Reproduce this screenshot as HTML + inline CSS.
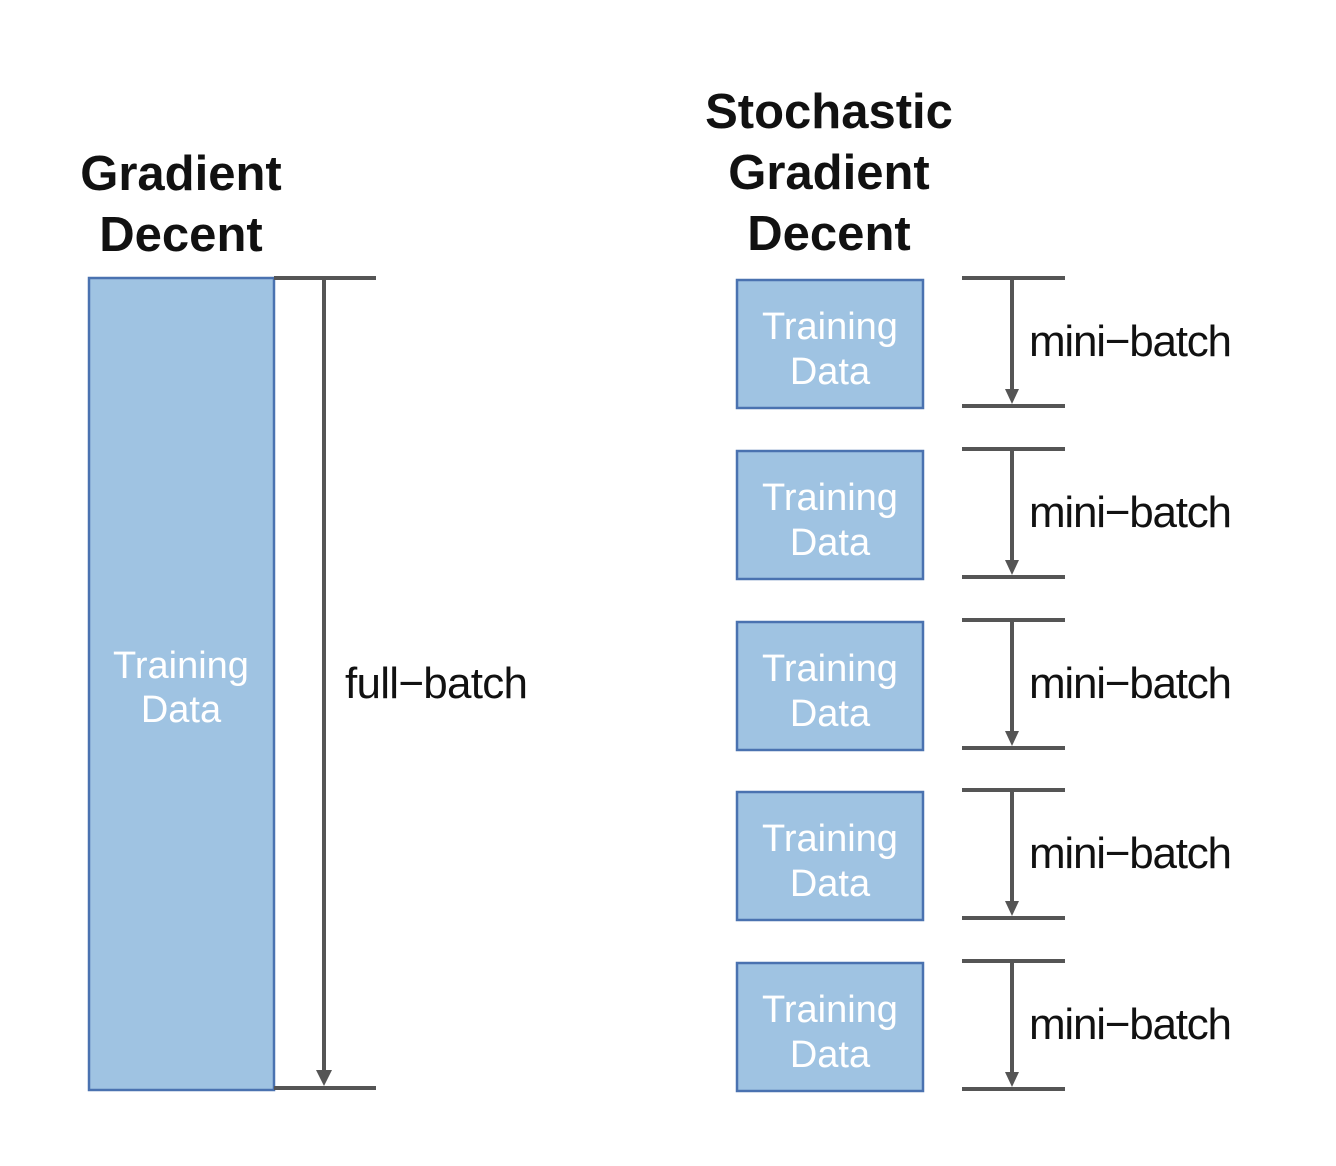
<!DOCTYPE html>
<html><head><meta charset="utf-8"><style>
html,body{margin:0;padding:0;background:#fff;}
svg{display:block;}
</style></head><body>
<svg width="1336" height="1166" viewBox="0 0 1336 1166" xmlns="http://www.w3.org/2000/svg">
<g font-family="Liberation Sans, sans-serif" font-weight="bold" font-size="49" fill="#111" text-anchor="middle">
<text x="181" y="190">Gradient</text>
<text x="181" y="251">Decent</text>
<text x="829" y="128">Stochastic</text>
<text x="829" y="189">Gradient</text>
<text x="829" y="250">Decent</text>
</g>
<rect x="89" y="278" width="185" height="812" fill="#9fc3e2" stroke="#4a72b0" stroke-width="2.5"/>
<g font-family="Liberation Sans, sans-serif" font-size="38" fill="#fff" text-anchor="middle">
<text x="181" y="678">Training</text>
<text x="181" y="722">Data</text>
</g>
<g stroke="#555" stroke-width="4" fill="none">
<line x1="274" y1="278" x2="376" y2="278"/>
<line x1="274" y1="1088" x2="376" y2="1088"/>
<line x1="324" y1="278" x2="324" y2="1080"/>
</g>
<polygon points="316,1070 332,1070 324,1086" fill="#555"/>
<text x="345" y="698" font-family="Liberation Sans, sans-serif" font-size="44" fill="#111" textLength="183">full−batch</text>
<g font-family="Liberation Sans, sans-serif">
<g transform="translate(0,0)">
<rect x="737" y="280" width="186" height="128" fill="#9fc3e2" stroke="#4a72b0" stroke-width="2.5"/>
<text x="830" y="339" font-size="38" fill="#fff" text-anchor="middle">Training</text>
<text x="830" y="384" font-size="38" fill="#fff" text-anchor="middle">Data</text>
<line x1="962" y1="278" x2="1065" y2="278" stroke="#555" stroke-width="4"/>
<line x1="962" y1="406" x2="1065" y2="406" stroke="#555" stroke-width="4"/>
<line x1="1012" y1="278" x2="1012" y2="398" stroke="#555" stroke-width="4"/>
<polygon points="1005,389 1019,389 1012,404" fill="#555"/>
<text x="1029" y="356" font-size="44" fill="#111" textLength="203">mini−batch</text>
</g>
<g transform="translate(0,171)">
<rect x="737" y="280" width="186" height="128" fill="#9fc3e2" stroke="#4a72b0" stroke-width="2.5"/>
<text x="830" y="339" font-size="38" fill="#fff" text-anchor="middle">Training</text>
<text x="830" y="384" font-size="38" fill="#fff" text-anchor="middle">Data</text>
<line x1="962" y1="278" x2="1065" y2="278" stroke="#555" stroke-width="4"/>
<line x1="962" y1="406" x2="1065" y2="406" stroke="#555" stroke-width="4"/>
<line x1="1012" y1="278" x2="1012" y2="398" stroke="#555" stroke-width="4"/>
<polygon points="1005,389 1019,389 1012,404" fill="#555"/>
<text x="1029" y="356" font-size="44" fill="#111" textLength="203">mini−batch</text>
</g>
<g transform="translate(0,342)">
<rect x="737" y="280" width="186" height="128" fill="#9fc3e2" stroke="#4a72b0" stroke-width="2.5"/>
<text x="830" y="339" font-size="38" fill="#fff" text-anchor="middle">Training</text>
<text x="830" y="384" font-size="38" fill="#fff" text-anchor="middle">Data</text>
<line x1="962" y1="278" x2="1065" y2="278" stroke="#555" stroke-width="4"/>
<line x1="962" y1="406" x2="1065" y2="406" stroke="#555" stroke-width="4"/>
<line x1="1012" y1="278" x2="1012" y2="398" stroke="#555" stroke-width="4"/>
<polygon points="1005,389 1019,389 1012,404" fill="#555"/>
<text x="1029" y="356" font-size="44" fill="#111" textLength="203">mini−batch</text>
</g>
<g transform="translate(0,512)">
<rect x="737" y="280" width="186" height="128" fill="#9fc3e2" stroke="#4a72b0" stroke-width="2.5"/>
<text x="830" y="339" font-size="38" fill="#fff" text-anchor="middle">Training</text>
<text x="830" y="384" font-size="38" fill="#fff" text-anchor="middle">Data</text>
<line x1="962" y1="278" x2="1065" y2="278" stroke="#555" stroke-width="4"/>
<line x1="962" y1="406" x2="1065" y2="406" stroke="#555" stroke-width="4"/>
<line x1="1012" y1="278" x2="1012" y2="398" stroke="#555" stroke-width="4"/>
<polygon points="1005,389 1019,389 1012,404" fill="#555"/>
<text x="1029" y="356" font-size="44" fill="#111" textLength="203">mini−batch</text>
</g>
<g transform="translate(0,683)">
<rect x="737" y="280" width="186" height="128" fill="#9fc3e2" stroke="#4a72b0" stroke-width="2.5"/>
<text x="830" y="339" font-size="38" fill="#fff" text-anchor="middle">Training</text>
<text x="830" y="384" font-size="38" fill="#fff" text-anchor="middle">Data</text>
<line x1="962" y1="278" x2="1065" y2="278" stroke="#555" stroke-width="4"/>
<line x1="962" y1="406" x2="1065" y2="406" stroke="#555" stroke-width="4"/>
<line x1="1012" y1="278" x2="1012" y2="398" stroke="#555" stroke-width="4"/>
<polygon points="1005,389 1019,389 1012,404" fill="#555"/>
<text x="1029" y="356" font-size="44" fill="#111" textLength="203">mini−batch</text>
</g>
</g>
</svg>
</body></html>
